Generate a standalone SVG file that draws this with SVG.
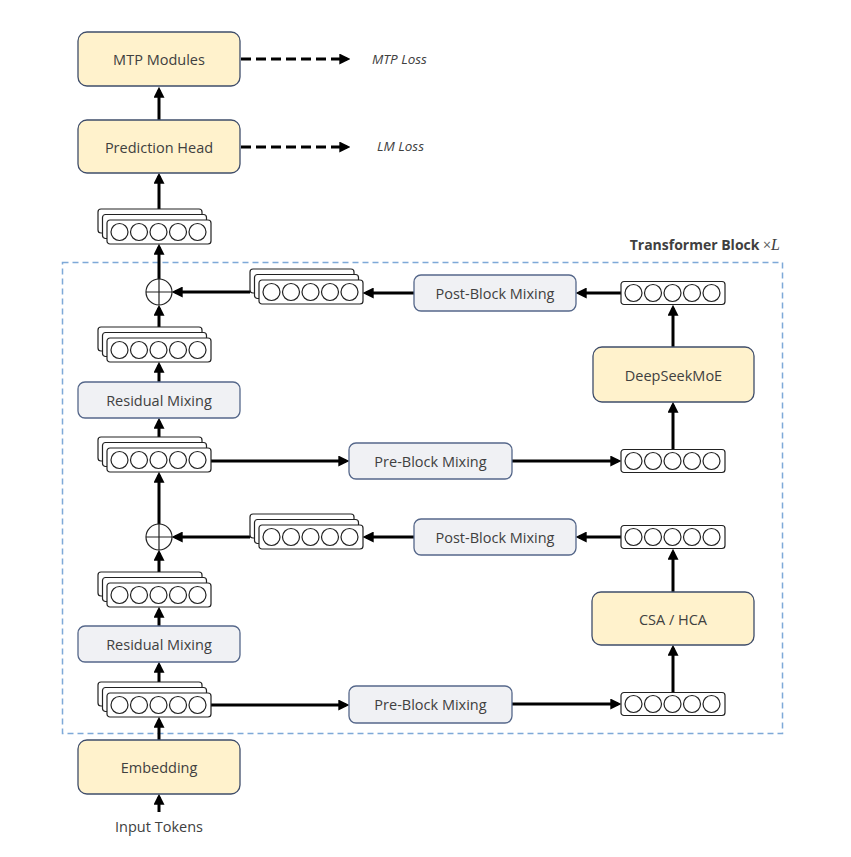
<svg xmlns="http://www.w3.org/2000/svg" xmlns:xlink="http://www.w3.org/1999/xlink" width="851" height="857" viewBox="0 0 851 857">
<style>
.y{fill:#FFF2CC;stroke:#3F4D6A;stroke-width:1.3}
.g{fill:#F0F1F4;stroke:#55678A;stroke-width:1.3}
.t{font-family:"Open Sans","Noto Sans",sans-serif;font-size:14.5px;fill:#404040;text-anchor:middle;dominant-baseline:central}
.it{font-family:"Open Sans","Noto Sans",sans-serif;font-size:13.5px;fill:#404040;font-style:italic}
.a{stroke:#000;stroke-width:3;fill:none;marker-end:url(#ah)}
.d{stroke:#000;stroke-width:3;fill:none;stroke-dasharray:10,5;marker-end:url(#ah)}
.vr{fill:#fff;stroke:#222;stroke-width:1.2}
.vc{fill:#fff;stroke:#222;stroke-width:1.2}
</style>
<defs>
<marker id="ah" viewBox="0 0 10 10" refX="7" refY="5" markerWidth="11" markerHeight="11" markerUnits="userSpaceOnUse" orient="auto">
<path d="M0,0 L10,5 L0,10 z" fill="#000"/>
</marker>
<g id="vec">
<rect class="vr" x="0" y="0" width="104" height="23" rx="3"/>
<circle class="vc" cx="12.5" cy="11.5" r="8.5"/>
<circle class="vc" cx="32" cy="11.5" r="8.5"/>
<circle class="vc" cx="51.5" cy="11.5" r="8.5"/>
<circle class="vc" cx="71" cy="11.5" r="8.5"/>
<circle class="vc" cx="90.5" cy="11.5" r="8.5"/>
</g>
<g id="stack">
<rect class="vr" x="-9" y="-11" width="104" height="24" rx="3"/>
<rect class="vr" x="-4.5" y="-5.5" width="104" height="24" rx="3"/>
<rect class="vr" x="0" y="0" width="104" height="24" rx="3"/>
<circle class="vc" cx="12.5" cy="12" r="8.5"/>
<circle class="vc" cx="32" cy="12" r="8.5"/>
<circle class="vc" cx="51.5" cy="12" r="8.5"/>
<circle class="vc" cx="71" cy="12" r="8.5"/>
<circle class="vc" cx="90.5" cy="12" r="8.5"/>
</g>
<g id="plus">
<circle cx="0" cy="0" r="13" fill="#fff" stroke="#222" stroke-width="1.2"/>
<path d="M-13,0 H13 M0,-13 V13" stroke="#222" stroke-width="1.2"/>
</g>
</defs>
<rect width="851" height="857" fill="#fff"/>

<g id="transformer-block">
<rect x="62.5" y="262.5" width="720" height="471" fill="none" stroke="#7EA9D8" stroke-width="1.5" stroke-dasharray="6,4"/>
<text x="780" y="250" font-family="'Open Sans','Noto Sans',sans-serif" font-size="14" font-weight="bold" fill="#404040" text-anchor="end">Transformer Block <tspan font-weight="normal" fill="#606060">×</tspan><tspan font-family="'Liberation Serif',serif" font-style="italic" font-weight="normal" font-size="16">L</tspan></text>
</g>

<g id="connectors">
<path class="d" d="M241,59 H347"/>
<path class="d" d="M241,147 H347"/>
<path class="a" d="M159,812 V797"/>
<path class="a" d="M159,740 V720"/>
<path class="a" d="M159,682 V665"/>
<path class="a" d="M159,626 V610"/>
<path class="a" d="M159,572 V553"/>
<path class="a" d="M159,524 V475"/>
<path class="a" d="M159,437 V421"/>
<path class="a" d="M159,382 V365"/>
<path class="a" d="M159,327 V308"/>
<path class="a" d="M159,279 V247"/>
<path class="a" d="M159,209 V176"/>
<path class="a" d="M159,120 V90"/>
<path class="a" d="M211,705 H346"/>
<path class="a" d="M512,704 H618"/>
<path class="a" d="M673,692 V648"/>
<path class="a" d="M673,592 V552"/>
<path class="a" d="M621,537 H579"/>
<path class="a" d="M414,537 H366"/>
<path class="a" d="M250,537 H175"/>
<path class="a" d="M211,461 H346"/>
<path class="a" d="M512,461 H618"/>
<path class="a" d="M673,449 V405"/>
<path class="a" d="M673,347 V308"/>
<path class="a" d="M621,293 H579"/>
<path class="a" d="M414,293 H366"/>
<path class="a" d="M250,292 H175"/>
</g>

<g id="mtp-modules"><rect class="y" x="78" y="32" width="162" height="54" rx="9"/><text class="t" x="159" y="59">MTP Modules</text></g>
<g id="mtp-loss"><text class="it" x="372" y="64">MTP Loss</text></g>
<g id="prediction-head"><rect class="y" x="78" y="120" width="162" height="53" rx="9"/><text class="t" x="159" y="147">Prediction Head</text></g>
<g id="lm-loss"><text class="it" x="377" y="151">LM Loss</text></g>

<g id="stack-top"><use xlink:href="#stack" x="107" y="220"/></g>
<g id="add-upper"><use xlink:href="#plus" x="159" y="292"/></g>
<g id="stack-upper-out"><use xlink:href="#stack" x="107" y="338"/></g>
<g id="residual-mixing-upper"><rect class="g" x="78" y="382" width="162" height="36" rx="7"/><text class="t" x="159" y="400">Residual Mixing</text></g>
<g id="stack-upper-in"><use xlink:href="#stack" x="107" y="448"/></g>
<g id="add-lower"><use xlink:href="#plus" x="159" y="537"/></g>
<g id="stack-lower-out"><use xlink:href="#stack" x="107" y="583"/></g>
<g id="residual-mixing-lower"><rect class="g" x="78" y="626" width="162" height="36" rx="7"/><text class="t" x="159" y="644">Residual Mixing</text></g>
<g id="stack-lower-in"><use xlink:href="#stack" x="107" y="693"/></g>
<g id="embedding"><rect class="y" x="78" y="740" width="162" height="54" rx="9"/><text class="t" x="159" y="767">Embedding</text></g>
<g id="input-tokens"><text class="t" x="159" y="826" font-size="13">Input Tokens</text></g>

<g id="post-stack-upper"><use xlink:href="#stack" x="259" y="280"/></g>
<g id="post-block-mixing-upper"><rect class="g" x="414" y="275" width="162" height="36" rx="7"/><text class="t" x="495" y="293">Post-Block Mixing</text></g>
<g id="vec-moe-out"><use xlink:href="#vec" x="621" y="281.5"/></g>
<g id="deepseekmoe"><rect class="y" x="593" y="347" width="161" height="55" rx="9"/><text class="t" x="673.5" y="375">DeepSeekMoE</text></g>
<g id="vec-moe-in"><use xlink:href="#vec" x="621" y="449.5"/></g>
<g id="pre-block-mixing-upper"><rect class="g" x="349" y="443" width="163" height="36" rx="7"/><text class="t" x="430.5" y="461">Pre-Block Mixing</text></g>

<g id="post-stack-lower"><use xlink:href="#stack" x="259" y="525"/></g>
<g id="post-block-mixing-lower"><rect class="g" x="414" y="519" width="162" height="36" rx="7"/><text class="t" x="495" y="537">Post-Block Mixing</text></g>
<g id="vec-attn-out"><use xlink:href="#vec" x="621" y="525.5"/></g>
<g id="csa-hca"><rect class="y" x="592" y="592" width="162" height="53" rx="9"/><text class="t" x="673" y="619">CSA / HCA</text></g>
<g id="vec-attn-in"><use xlink:href="#vec" x="621" y="692.5"/></g>
<g id="pre-block-mixing-lower"><rect class="g" x="349" y="686" width="163" height="37" rx="7"/><text class="t" x="430.5" y="704.5">Pre-Block Mixing</text></g>
</svg>
